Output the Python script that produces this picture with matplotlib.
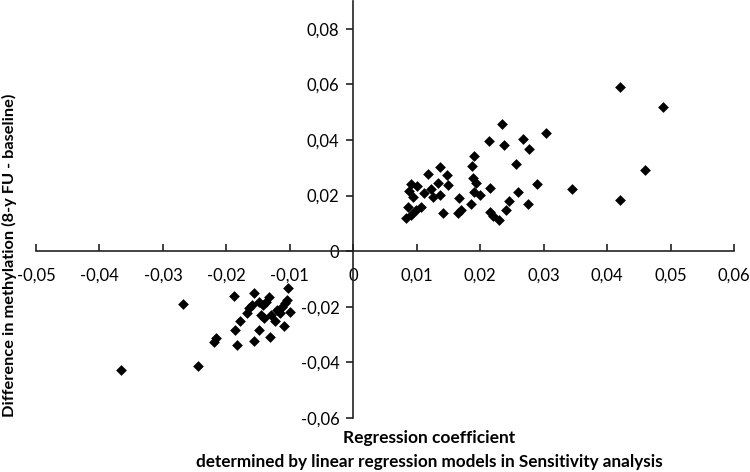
import matplotlib
matplotlib.use("Agg")
import matplotlib.pyplot as plt
from matplotlib.ticker import FuncFormatter, MultipleLocator

plt.rcParams['font.family'] = ['Lato', 'DejaVu Sans']

# regression coefficient (x) vs difference in methylation (y), positive cluster
pos_x = [0.0235, 0.0303, 0.0214, 0.0237, 0.0267, 0.0277, 0.0191, 0.0187, 0.0257, 0.0137,
         0.0117, 0.0148, 0.0091, 0.0101, 0.0150, 0.0133, 0.0188, 0.0194, 0.0122, 0.0088,
         0.0215, 0.0290, 0.0191, 0.0199, 0.0259, 0.0125, 0.0136, 0.0094, 0.0167, 0.0245,
         0.0185, 0.0275, 0.0086, 0.0107, 0.0099, 0.0170, 0.0165, 0.0141, 0.0216, 0.0241,
         0.0083, 0.0091, 0.0220, 0.0230, 0.0344, 0.0420, 0.0488, 0.0460, 0.0420, 0.0112]
pos_y = [0.0456, 0.0426, 0.0396, 0.0381, 0.0405, 0.0366, 0.0342, 0.0306, 0.0312, 0.0303,
         0.0279, 0.0273, 0.0243, 0.0234, 0.0237, 0.0247, 0.0265, 0.0246, 0.0225, 0.0217,
         0.0228, 0.0240, 0.0213, 0.0201, 0.0213, 0.0195, 0.0201, 0.0195, 0.0190, 0.0181,
         0.0168, 0.0168, 0.0159, 0.0159, 0.0147, 0.0147, 0.0138, 0.0138, 0.0141, 0.0147,
         0.0118, 0.0129, 0.0126, 0.0114, 0.0224, 0.0591, 0.0517, 0.0291, 0.0183, 0.0210]

# negative cluster
neg_x = [-0.0268, -0.0366, -0.0245, -0.0188, -0.0156, -0.0103, -0.0133, -0.0104, -0.0107, -0.0099,
         -0.0112, -0.0115, -0.0138, -0.0143, -0.0159, -0.0165, -0.0168, -0.0178, -0.0146, -0.0141,
         -0.0130, -0.0124, -0.0109, -0.0187, -0.0149, -0.0131, -0.0156, -0.0216, -0.0219, -0.0184,
         -0.0149, -0.0120]
neg_y = [-0.0191, -0.0428, -0.0414, -0.0161, -0.0149, -0.0134, -0.0164, -0.0174, -0.0188, -0.0218,
         -0.0200, -0.0224, -0.0182, -0.0194, -0.0194, -0.0203, -0.0224, -0.0251, -0.0230, -0.0242,
         -0.0230, -0.0251, -0.0270, -0.0284, -0.0284, -0.0308, -0.0323, -0.0314, -0.0326, -0.0338,
         -0.0182, -0.0212]

fig = plt.figure(figsize=(7.5, 4.72), dpi=100)
ax = fig.add_axes([36 / 750, (472 - 418) / 472, (734 - 36) / 750, (418 - 1) / 472])

ax.scatter(pos_x + neg_x, pos_y + neg_y, marker='D', s=30, color='black', linewidths=0, zorder=3)

ax.set_xlim(-0.05, 0.06)
ax.set_ylim(-0.06, 0.09)
ax.spines['left'].set_position(('data', 0))
ax.spines['bottom'].set_position(('data', 0))
ax.spines['top'].set_visible(False)
ax.spines['right'].set_visible(False)
for s in ('left', 'bottom'):
    ax.spines[s].set_linewidth(1.2)
    ax.spines[s].set_color('#222222')

ax.xaxis.set_major_locator(MultipleLocator(0.01))
ax.set_yticks([-0.06, -0.04, -0.02, 0, 0.02, 0.04, 0.06, 0.08])


def comma(v, pos):
    if abs(v) < 1e-9:
        return '0'
    return ('%.2f' % v).replace('.', ',')


ax.xaxis.set_major_formatter(FuncFormatter(comma))
ax.yaxis.set_major_formatter(FuncFormatter(comma))
ax.tick_params(axis='x', direction='in', length=5, width=1.2, labelsize=12, pad=12, color='#222222')
ax.tick_params(axis='y', direction='out', length=5, width=1.2, labelsize=12, pad=5, color='#222222')

fig.text(0.012, 0.46, 'Difference in methylation (8-y FU - baseline)', rotation=90,
         ha='center', va='center', fontsize=11.8, fontweight='bold')
fig.text(429 / 750, 1 - 438 / 472, 'Regression coefficient', ha='center', va='center',
         fontsize=12.5, fontweight='bold')
fig.text(429 / 750, 1 - 462 / 472, 'determined by linear regression models in Sensitivity analysis',
         ha='center', va='center', fontsize=12.3, fontweight='bold')

fig.savefig('out.png', dpi=100)
